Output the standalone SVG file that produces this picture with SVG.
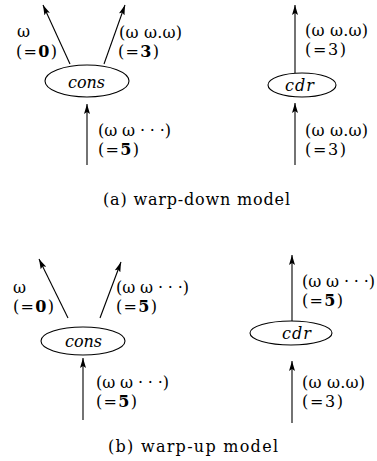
<svg xmlns="http://www.w3.org/2000/svg" width="377" height="461" viewBox="0 0 377 461">
<defs>
<marker id="ah" viewBox="0 0 10 6" refX="10" refY="3" markerWidth="10" markerHeight="6" markerUnits="userSpaceOnUse" orient="auto">
<path d="M0,0 L10,3 L0,6 L2,3 Z" fill="#000"/>
</marker>
</defs>
<style>
.n{fill:none;stroke:#000;stroke-width:1.1}
.e{stroke:#000;stroke-width:1.1;fill:none;marker-end:url(#ah)}
text{font-family:"DejaVu Serif","Liberation Serif",serif;font-size:16px;fill:#000}
.i{font-style:italic;font-size:16px}
.b{font-weight:bold}
.c{font-size:16px}
</style>
<rect width="377" height="461" fill="#fff"/>
<g id="connectors">
<line class="e" x1="70" y1="64" x2="43" y2="5"/>
<line class="e" x1="104" y1="64" x2="125" y2="5"/>
<line class="e" x1="87" y1="165" x2="87" y2="104"/>
<line class="e" x1="295" y1="73" x2="295" y2="5"/>
<line class="e" x1="295" y1="165" x2="295" y2="103"/>
<line class="e" x1="68" y1="318" x2="39" y2="259"/>
<line class="e" x1="100" y1="318" x2="121" y2="262"/>
<line class="e" x1="83" y1="420" x2="83" y2="358"/>
<line class="e" x1="292" y1="321" x2="292" y2="255"/>
<line class="e" x1="292" y1="423" x2="292" y2="361"/>
</g>
<g id="cons-a">
<ellipse class="n" cx="87" cy="81" rx="42" ry="16"/>
<text class="i" x="68" y="88" textLength="37">cons</text>
</g>
<g id="cdr-a">
<ellipse class="n" cx="302" cy="85" rx="34" ry="12"/>
<text class="i" x="285" y="91" textLength="29">cdr</text>
</g>
<g id="cons-b">
<ellipse class="n" cx="83" cy="341" rx="42" ry="14"/>
<text class="i" x="65" y="347" textLength="37">cons</text>
</g>
<g id="cdr-b">
<ellipse class="n" cx="291" cy="333" rx="41" ry="12"/>
<text class="i" x="282" y="339" textLength="29">cdr</text>
</g>
<g id="labels">
<text x="17" y="37">ω</text>
<text x="16" y="57" textLength="41">(=<tspan class="b">0</tspan>)</text>
<text x="119" y="38" textLength="63">(ω ω.ω)</text>
<text x="118" y="57" textLength="41">(=<tspan class="b">3</tspan>)</text>
<text x="98" y="136" textLength="73">(ω ω · · ·)</text>
<text x="98" y="155" textLength="41">(=<tspan class="b">5</tspan>)</text>
<text x="305" y="36" textLength="63">(ω ω.ω)</text>
<text x="305" y="55" textLength="41">(=3)</text>
<text x="305" y="136" textLength="63">(ω ω.ω)</text>
<text x="305" y="155" textLength="41">(=3)</text>
<text class="c" x="103" y="205" textLength="187">(a) warp-down model</text>
<text x="13" y="293">ω</text>
<text x="13" y="312" textLength="41">(=<tspan class="b">0</tspan>)</text>
<text x="116" y="293" textLength="73">(ω ω · · ·)</text>
<text x="116" y="312" textLength="41">(=<tspan class="b">5</tspan>)</text>
<text x="96" y="388" textLength="73">(ω ω · · ·)</text>
<text x="96" y="407" textLength="41">(=<tspan class="b">5</tspan>)</text>
<text x="302" y="287" textLength="73">(ω ω · · ·)</text>
<text x="302" y="306" textLength="41">(=<tspan class="b">5</tspan>)</text>
<text x="302" y="388" textLength="63">(ω ω.ω)</text>
<text x="302" y="407" textLength="41">(=3)</text>
<text class="c" x="108" y="452" textLength="170">(b) warp-up model</text>
</g>
</svg>
